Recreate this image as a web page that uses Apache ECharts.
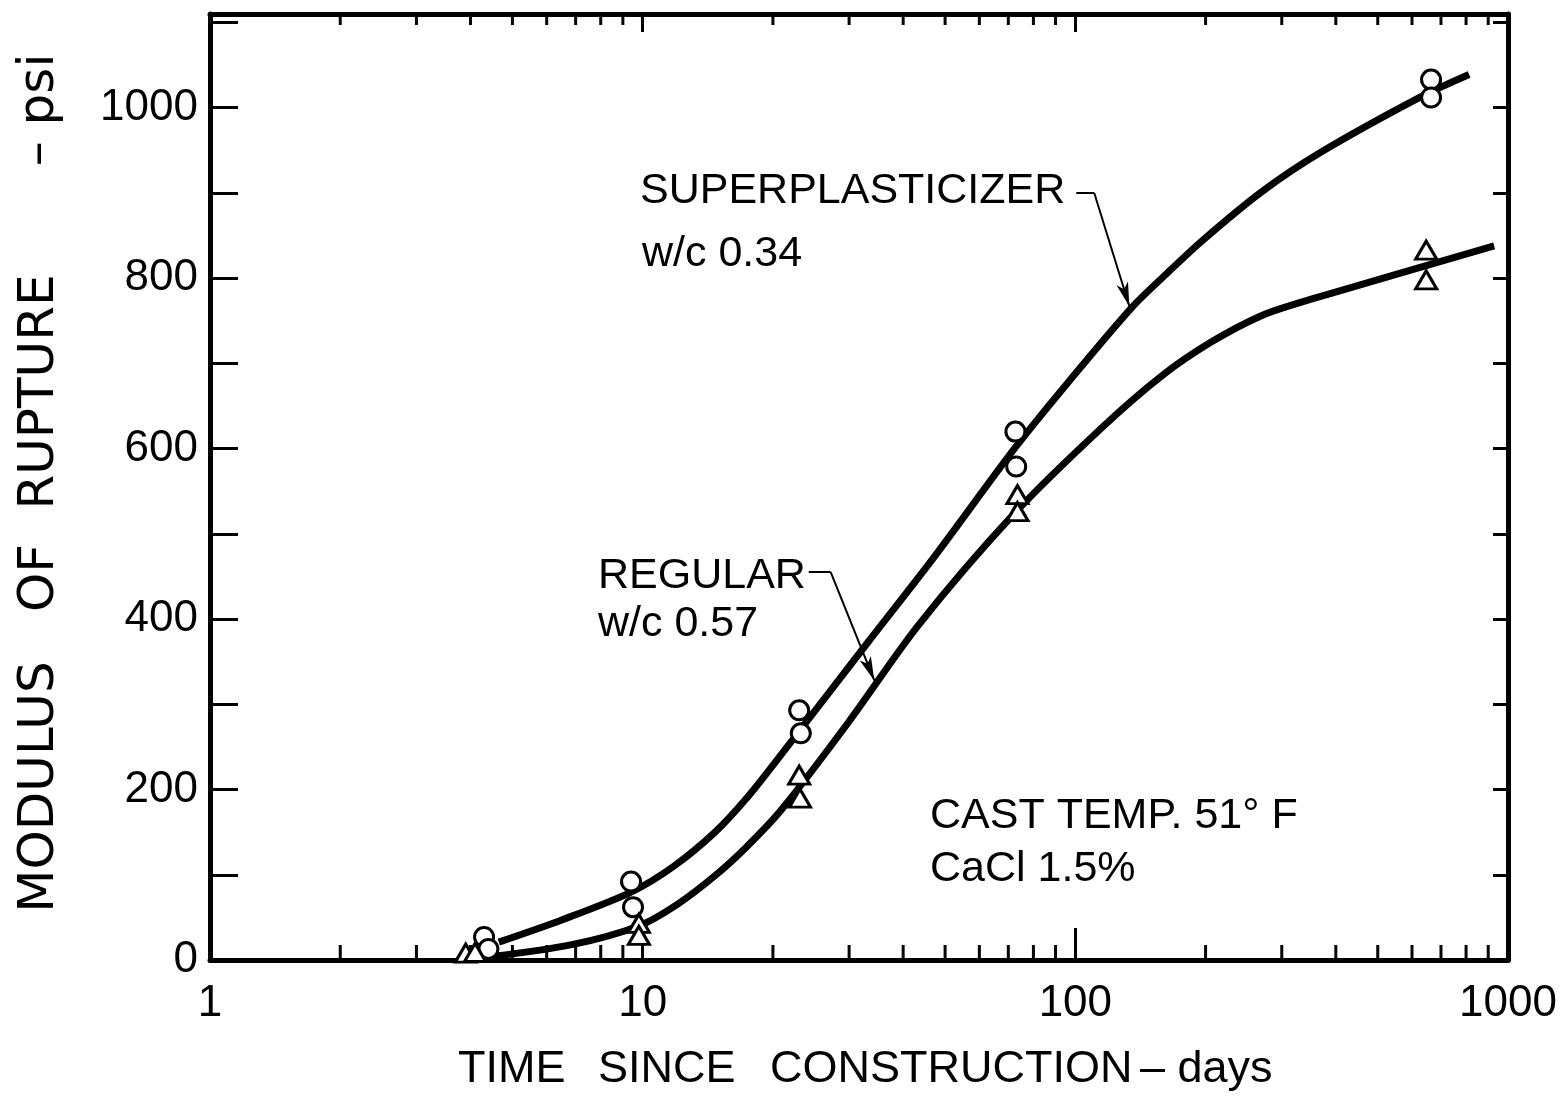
<!DOCTYPE html>
<html>
<head>
<meta charset="utf-8">
<title>Modulus of rupture vs time</title>
<script src="https://cdn.jsdelivr.net/npm/echarts@6/dist/echarts.min.js"></script>
<style>
  html, body { margin: 0; padding: 0; background: #fff; }
  #chart { width: 1562px; height: 1099px; }
</style>
</head>
<body>
<div id="chart"></div>
<script>
// test specimens: [days, psi]
const superPoints = [[4.3, 27], [4.4, 13], [9.4, 92], [9.5, 62], [23, 293], [23.2, 266],
  [72.7, 620], [73, 579], [664, 1033], [664, 1012]];
const regularPoints = [[3.9, 8], [4.1, 9], [9.8, 43], [9.8, 29], [23, 217], [23.1, 190],
  [73.5, 546], [73.5, 526], [647, 833], [647, 798]];

// fitted curves drawn on the chart
const superCurve = [[4.65, 21], [6.5, 47], [9.43, 80], [11.8, 110], [14.7, 150], [17.4, 190],
  [20.9, 241], [33.3, 374], [47.2, 473], [72.3, 600], [96.3, 678], [134.7, 765], [162.3, 805],
  [195.4, 843], [269, 901], [370, 948], [630, 1013], [813, 1039]];
const regularCurve = [[4.48, 4], [6.86, 18], [9.8, 40], [12, 65], [14.7, 99], [17.4, 133],
  [20.9, 176], [29.9, 279], [43.4, 393], [72.3, 524], [114.8, 624], [158, 685], [206, 725],
  [269, 756], [333, 772], [401, 784], [929, 838]];

// leader lines for the curve labels (last point gets the arrow)
const superLeader = [[100.5, 900], [110.6, 900], [133.3, 767]];
const regularLeader = [[24.2, 455], [27.2, 455], [34.3, 328]];

// axes
const xMin = 1, xMax = 1000;
const yMin = 0, yMax = 1110, yStep = 100;
const minorTickDays = [2, 3, 4, 5, 6, 7, 8, 9, 20, 30, 40, 50, 60, 70, 80, 90,
  200, 300, 400, 500, 600, 700, 800, 900];

const FONT = "'Liberation Sans', Arial, sans-serif";
const TITLE_FONT = "'DejaVu Sans', sans-serif";
const INK = '#000';

function leaderLines(pts) {
  return [
    [{ coord: pts[0], symbol: 'none' }, { coord: pts[1], symbol: 'none' }],
    [{ coord: pts[1], symbol: 'none' }, { coord: pts[2], symbol: 'arrow', symbolSize: [9, 24] }]
  ];
}

function txt(text, x, y, font, align, rotation) {
  return {
    type: 'text', x: x, y: y, silent: true, rotation: rotation || 0,
    style: { text: text, fill: INK, font: font, textAlign: align || 'left', textVerticalAlign: 'middle' }
  };
}

const chart = echarts.init(document.getElementById('chart'));

const option = {
  animation: false,
  backgroundColor: '#fff',
  grid: { left: 210, top: 14, right: 54, bottom: 139 },
  xAxis: [{
    type: 'log', logBase: 10, min: xMin, max: xMax, position: 'bottom',
    axisLine: { show: true, onZero: false, lineStyle: { color: INK, width: 5 } },
    axisTick: { show: true, inside: true, length: 32, lineStyle: { color: INK, width: 3 } },
    axisLabel: { color: INK, fontSize: 44, fontFamily: FONT, margin: 22, formatter: v => String(Math.round(v)) },
    splitLine: { show: false }
  }, {
    type: 'log', logBase: 10, min: xMin, max: xMax, position: 'top',
    axisLine: { show: true, onZero: false, lineStyle: { color: INK, width: 5 } },
    axisTick: { show: true, inside: true, length: 18, lineStyle: { color: INK, width: 3 } },
    axisLabel: { show: false },
    splitLine: { show: false }
  }],
  yAxis: [{
    type: 'value', min: yMin, max: yMax, interval: yStep, position: 'left',
    axisLine: { show: true, onZero: false, lineStyle: { color: INK, width: 5 } },
    axisTick: { show: true, inside: true, length: 28, lineStyle: { color: INK, width: 3 } },
    axisLabel: {
      color: INK, fontSize: 44, fontFamily: FONT, margin: 12,
      formatter: v => (v % 200 === 0 ? String(v) : '')
    },
    splitLine: { show: false }
  }, {
    type: 'value', min: yMin, max: yMax, interval: yStep, position: 'right',
    axisLine: { show: true, onZero: false, lineStyle: { color: INK, width: 5 } },
    axisTick: { show: true, inside: true, length: 15, lineStyle: { color: INK, width: 3 } },
    axisLabel: { show: false },
    splitLine: { show: false }
  }],
  series: [
    {
      // minor log ticks 2..9 on bottom and top edges
      type: 'custom', silent: true, z: 1,
      data: minorTickDays.map(d => [d, 0]),
      renderItem: (params, api) => {
        const d = api.value(0);
        const b = api.coord([d, yMin]);
        const t = api.coord([d, yMax]);
        return {
          type: 'group', children: [
            { type: 'line', shape: { x1: b[0], y1: b[1], x2: b[0], y2: b[1] - 15 }, style: { stroke: INK, lineWidth: 3 } },
            { type: 'line', shape: { x1: t[0], y1: t[1], x2: t[0], y2: t[1] + 11 }, style: { stroke: INK, lineWidth: 3 } }
          ]
        };
      }
    },
    {
      name: 'Superplasticizer curve', type: 'line', data: superCurve, smooth: 0.3,
      showSymbol: false, lineStyle: { color: INK, width: 7 }, z: 2,
      markLine: {
        silent: true, animation: false, label: { show: false },
        lineStyle: { color: INK, width: 2, type: 'solid' },
        data: leaderLines(superLeader)
      }
    },
    {
      name: 'Regular curve', type: 'line', data: regularCurve, smooth: 0.3,
      showSymbol: false, lineStyle: { color: INK, width: 7 }, z: 2,
      markLine: {
        silent: true, animation: false, label: { show: false },
        lineStyle: { color: INK, width: 2, type: 'solid' },
        data: leaderLines(regularLeader)
      }
    },
    {
      name: 'Superplasticizer', type: 'scatter', data: superPoints, symbol: 'circle', symbolSize: 19,
      itemStyle: { color: '#fff', borderColor: INK, borderWidth: 3, opacity: 1 }, z: 3
    },
    {
      name: 'Regular', type: 'scatter', data: regularPoints, symbol: 'triangle', symbolSize: [21, 18],
      itemStyle: { color: '#fff', borderColor: INK, borderWidth: 3, opacity: 1 }, z: 3
    }
  ],
  graphic: [
    txt('SUPERPLASTICIZER', 640, 191, '43px ' + FONT),
    txt('w/c 0.34', 642, 254, '43px ' + FONT),
    txt('REGULAR', 598, 576, '43px ' + FONT),
    txt('w/c 0.57', 598, 624, '43px ' + FONT),
    txt('CAST TEMP. 51° F', 930, 816, '43px ' + FONT),
    txt('CaCl 1.5%', 930, 869, '43px ' + FONT),
    // x axis title
    txt('TIME', 458, 1070, '45px ' + FONT),
    txt('SINCE', 598, 1070, '45px ' + FONT),
    txt('CONSTRUCTION', 770, 1070, '45px ' + FONT),
    txt('– days', 1140, 1070, '45px ' + FONT),
    // y axis title, read bottom to top
    txt('MODULUS', 40, 787, '50px ' + TITLE_FONT, 'center', Math.PI / 2),
    txt('OF', 40, 578, '50px ' + TITLE_FONT, 'center', Math.PI / 2),
    txt('RUPTURE', 40, 392, '50px ' + TITLE_FONT, 'center', Math.PI / 2),
    txt('– psi', 40, 110, '50px ' + TITLE_FONT, 'center', Math.PI / 2)
  ]
};

chart.setOption(option);
</script>
</body>
</html>
